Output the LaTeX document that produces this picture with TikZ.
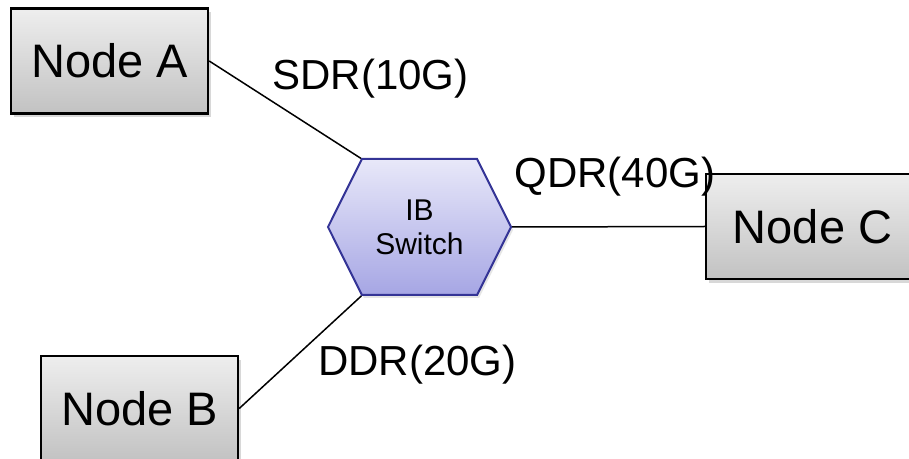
\documentclass[tikz,border=0pt]{standalone}
\usepackage{fontspec}
\setmainfont{Liberation Sans}
\usetikzlibrary{positioning,shapes.symbols,shadows}
\definecolor{boxtop}{RGB}{238,238,238}
\definecolor{boxbottom}{RGB}{194,194,194}
\definecolor{swtop}{RGB}{232,232,249}
\definecolor{swbottom}{RGB}{166,166,228}
\definecolor{swline}{RGB}{52,52,150}

\begin{document}
\begin{tikzpicture}[x=0.5pt,y=-0.5pt,
    box/.style={draw=black,line width=1.2pt,top color=boxtop,bottom color=boxbottom,
        minimum width=98.5pt,minimum height=52.5pt,inner sep=0pt,font=\fontsize{23.5}{28}\selectfont,
        drop shadow={shadow xshift=1.5pt,shadow yshift=-2pt,opacity=0.3}},
    switch/.style={signal,signal to=west and east,signal pointer angle=127,
        draw=swline,line width=1pt,top color=swtop,bottom color=swbottom,
        minimum width=91.5pt,minimum height=68pt,inner sep=0pt,align=center,
        font=\fontsize{15}{17}\selectfont,
        drop shadow={shadow xshift=1pt,shadow yshift=-1.5pt,opacity=0.2}},
    lbl/.style={anchor=base,inner sep=0pt,font=\fontsize{21}{25}\selectfont},
    link/.style={draw=black,line width=0.75pt}]
    \fill[white] (0,0) rectangle (909,459);
    \useasboundingbox (0,0) rectangle (909,459);
    \node[switch] (sw) at (419.5,227) {IB\\Switch};
    \node[box] (a) at (109.5,61) {Node A};
    \node[box] (b) at (139.5,408.5) {Node B};
    \node[box,minimum width=106.5pt] (c) at (812.5,226.5) {Node C};
    \draw[link] (a.east) -- (sw.north west);
    \draw[link] (b.east) -- (sw.south west);
    \draw[link] (sw.east) -- (c.west);
    \node[lbl] (sdr) at (370.5,90) {SDR(10G)};
    \node[lbl] (qdr) at (615,188) {QDR(40G)};
    \node[lbl] (ddr) at (417.5,375) {DDR(20G)};
\end{tikzpicture}
\end{document}
